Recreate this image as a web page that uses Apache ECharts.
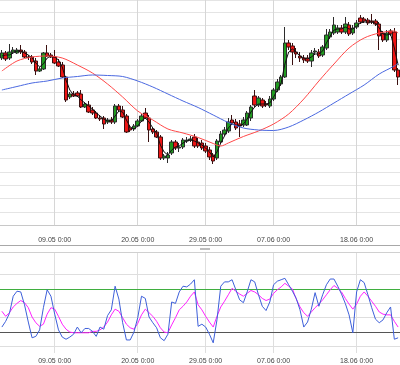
<!DOCTYPE html>
<html><head><meta charset="utf-8">
<script src="https://cdn.jsdelivr.net/npm/echarts@6/dist/echarts.min.js"></script>
<style>html,body{margin:0;padding:0;background:#fff}#c{width:400px;height:365px}</style>
</head><body><div id="c"></div>
<script>
const days = ['02.05','03.05','04.05','05.05','06.05','07.05','08.05','09.05','10.05','11.05',
'12.05','13.05','14.05','15.05','16.05','17.05','18.05','19.05','20.05','21.05','22.05','23.05',
'24.05','25.05','26.05','27.05','28.05','29.05','30.05','31.05','01.06','02.06','03.06','04.06',
'05.06','06.06','07.06','08.06','09.06','10.06','11.06','12.06','13.06','14.06','15.06','16.06',
'17.06','18.06','19.06','20.06','21.06','22.06','23.06'];
const hours = ['0:00','12:00'];
const tickLabels = ['09.05 0:00','20.05 0:00','29.05 0:00','07.06 0:00','18.06 0:00'];

// [open, close, low, high]
const ohlc = [
[192,197,190,200],[197,191,189,199],[192,198,190,206],[198,200,196,203],[197,200,196,202],
[200,198,196,205],[198,193,192,200],[193,192.5,190,195],[193,188,186,195],[189,179,175,192],
[179,181,178,183],[181,197,180,198],[197,194,193,205],[195,193,192,197],[193,187,186,200],
[188,184,183,191],[185,173,172,188],[173,150,148,174],[153,156,151,158],[156,154,153,159],
[157,154,153,159],[156,143,142,160],[143,146,142,148],[145,138,137,149],[140,137,135,143],
[137,132,131,139],[132,131,129,135],[132,126,121,134],[128,130,126,132],[130,128,126,133],
[128,144,126,146],[144,140,138,146],[140,133,132,144],[134,118,117,136],[122,120,118,125],
[121,124,119,126],[124,129,123,131],[129,134,128,136],[137,132,131,142],[132,120,108,135],
[121,118,116,123],[118,113,112,120],[113,92,90,115],[92,94,90,96],[92,95,87,98],
[97,108,95,110],[108,102,100,110],[102,103,98,107],[103,110,101,112],[109,110,107,113],
[110,111,108,114],[113,104,102,116],[108,104,102,112],[107,102,100,110],[104,99,97,107],
[100,93,90,103],[95,89,86,97],[92,109,90,111],[108,116,106,119],[116,120,114,123],
[119,128,117,132],[130,127,125,135],[128,122,120,131],[126,124,113,130],[125,130,123,133],
[125,137,124,139],[132,143,129,145],[154,145,143,160],[145,152,143,154],[150,144,142,152],
[146,145,143,149],[144,151,142,154],[151,160,149,162],[160,168,158,171],[166,173,164,175],
[173,207,172,223],[207,203,200,210],[204,198,185,207],[198,196,192,202],[194,192,188,198],
[192,190,187,195],[192,189,187,195],[189,197,183,200],[198,199,195,202],[198,194,192,201],
[195,203,193,205],[202,215,200,221],[213,218,211,221],[217,225,215,233],[218,222,216,225],
[222,218,216,225],[218,226,216,233],[225,216,214,228],[217,222,215,225],[223,227,221,230],
[232,228,226,235],[231,229,227,233],[230,227,225,232],[229,228,226,236],[229,226,224,231],
[226,214,200,228],[217,210,208,219],[210,217,208,220],[219,216,214,221],[218,180,178,222],
[180,173,165,182]
];
const maFast = [
194,195,195,197,199,199,197,195,192,187,
183,186,192,194,193,190,183,170,160,155,
154,150,147,144,141,137,134,131,129,129,
134,139,138,130,123,121,124,129,132,128,
122,117,105,98,95,100,103,104,107,109,
110,109,107,105,102,98,93,98,107,114,
122,126,125,124,126,131,138,143,146,146,
146,147,153,160,167,186,198,201,198,194,
192,191,193,196,196,199,207,214,220,221,
221,223,221,221,224,227,228,228,228,227,
222,216,215,216,202,185
];
const maMidIdx = [0,4,8,12,16,20,24,28,32,36,40,44,48,52,56,58,60,64,68,72,76,80,84,88,92,96,100,104,105];
const maMidVal = [179,189,193,194,192,185,177,166,153,139,130,121,117,112.5,106.5,104,107,113.5,119,126,136,151,169,186,202,212,217,219,217];
const maSlowIdx = [0,4,8,12,16,20,24,28,32,36,40,44,48,52,56,60,64,68,72,76,80,84,88,92,96,100,104,105];
const maSlowVal = [160,163.5,167,169,172,173.5,175,174.5,173.5,169,163,156,149,142.5,135,127.5,122,120,119.5,123,130,138,147,156,165,176,184,187];

const stochK = [
27,35,46,70,77,76,58,34,12,14,
23,54,79,70,45,23,13,10,13,17,
27,19,25,25,21,14,27,24,43,51,
84,66,33,9,9,20,40,70,67,41,
33,26,12,8,17,62,60,76,84,83,
87,93,28,31,27,17,5,37,84,90,
90,93,79,65,61,76,93,90,72,56,
50,62,86,91,93,95,86,77,67,51,
27,34,52,75,56,72,86,94,94,84,
73,60,44,19,76,93,89,72,54,38,
33,37,47,55,10,12
];
const stochD = [
49,42,47,55,60,64,61,54,41,33,
28,31,45,54,52,42,31,24,20,19,
19,19,19,19,21,21,23,27,34,44,
52,49,40,31,26,24,32,44,52,47,
42,35,26,20,19,30,40,51,56,62,
70,76,58,51,42,34,27,42,55,63,
72,81,77,73,70,74,78,76,72,67,
64,66,74,79,83,88,84,80,66,55,
47,42,48,54,59,65,72,79,85,81,
76,67,59,52,59,70,76,70,63,56,
48,45,44,44,35,27
];
const gridLevels = [0,40,60,100];
const upperLevel = [80];
const lowerLevel = [20];

const categories = [];
days.forEach(d => hours.forEach(h => categories.push(d + ' ' + h)));
const pairs = (idx, val) => idx.map((i, n) => [i, val[n]]);

const font = 'Liberation Sans, Arial, sans-serif';
const vLines = tickLabels.map(t => ({xAxis: t}));
const chart = echarts.init(document.getElementById('c'), null, {renderer: 'canvas'});
const xCommon = (gi, margin) => ({
  type: 'category', gridIndex: gi, data: categories, boundaryGap: true,
  axisLine: {show: true, lineStyle: {color: '#c8c8c8', width: 1}},
  axisTick: {show: false},
  splitLine: {show: false},
  axisLabel: {interval: (i, v) => tickLabels.includes(v), fontSize: 7, color: '#444',
    fontFamily: font, margin: margin}
});
const ml = (data, color, z) => ({silent: true, symbol: ['none', 'none'], label: {show: false}, z: z,
  lineStyle: {color: color, type: 'solid', width: 1}, data: data});
chart.setOption({
  animation: false,
  grid: [
    {left: 0, right: 0, top: 0, height: 225.1},
    {left: 0, right: 0, top: 253, height: 100}
  ],
  xAxis: [xCommon(0, 11), xCommon(1, 5)],
  yAxis: [
    {type: 'value', gridIndex: 0, min: 24.9, max: 250, show: false},
    {type: 'value', gridIndex: 0, min: 10, max: 179.25, interval: 10,
      axisLine: {show: false}, axisTick: {show: false}, axisLabel: {show: false},
      splitLine: {show: true, lineStyle: {color: '#e4e4e4', width: 1}}},
    {type: 'value', gridIndex: 1, min: -9.2, max: 130.3, show: false}
  ],
  graphic: [
    {type: 'line', shape: {x1: 0, y1: 245.5, x2: 400, y2: 245.5}, style: {stroke: '#a8a8a8', lineWidth: 1}},
    {type: 'line', shape: {x1: 0, y1: 252.5, x2: 400, y2: 252.5}, style: {stroke: '#d0d0d0', lineWidth: 1}},
    {type: 'rect', shape: {x: 200, y: 248, width: 10, height: 2}, style: {fill: '#bdbdbd'}}
  ],
  series: [
    {type: 'candlestick', xAxisIndex: 0, yAxisIndex: 0, data: ohlc, barWidth: 4,
      itemStyle: {color: '#1f9a1f', color0: '#ee1414', borderColor: '#2c2c2c', borderColor0: '#3a1010', borderWidth: 1},
      markLine: ml(vLines, '#d6d6d6', 1)},
    {type: 'line', xAxisIndex: 0, yAxisIndex: 0, data: maFast, showSymbol: false,
      lineStyle: {color: '#111', width: 1}, z: 3},
    {type: 'line', xAxisIndex: 0, yAxisIndex: 0, data: pairs(maMidIdx, maMidVal), showSymbol: false, smooth: 0.3,
      lineStyle: {color: '#ff4848', width: 1}, z: 3},
    {type: 'line', xAxisIndex: 0, yAxisIndex: 0, data: pairs(maSlowIdx, maSlowVal), showSymbol: false, smooth: 0.3,
      lineStyle: {color: '#4a68e0', width: 1}, z: 3},
    {type: 'line', xAxisIndex: 1, yAxisIndex: 2, data: stochK, showSymbol: false,
      lineStyle: {color: '#3d5fd9', width: 1}, z: 4,
      markLine: ml(vLines.concat(gridLevels.map(l => ({yAxis: l}))), '#dedede', 1)},
    {type: 'line', xAxisIndex: 1, yAxisIndex: 2, data: stochD, showSymbol: false,
      lineStyle: {color: '#ff22ff', width: 1}, z: 3,
      markLine: ml(upperLevel.map(l => ({yAxis: l})), '#3fae3f', 2)},
    {type: 'line', xAxisIndex: 1, yAxisIndex: 2, data: stochD, showSymbol: false,
      lineStyle: {opacity: 0}, z: 1,
      markLine: ml(lowerLevel.map(l => ({yAxis: l})), '#555555', 2)}
  ]
});
</script></body></html>
